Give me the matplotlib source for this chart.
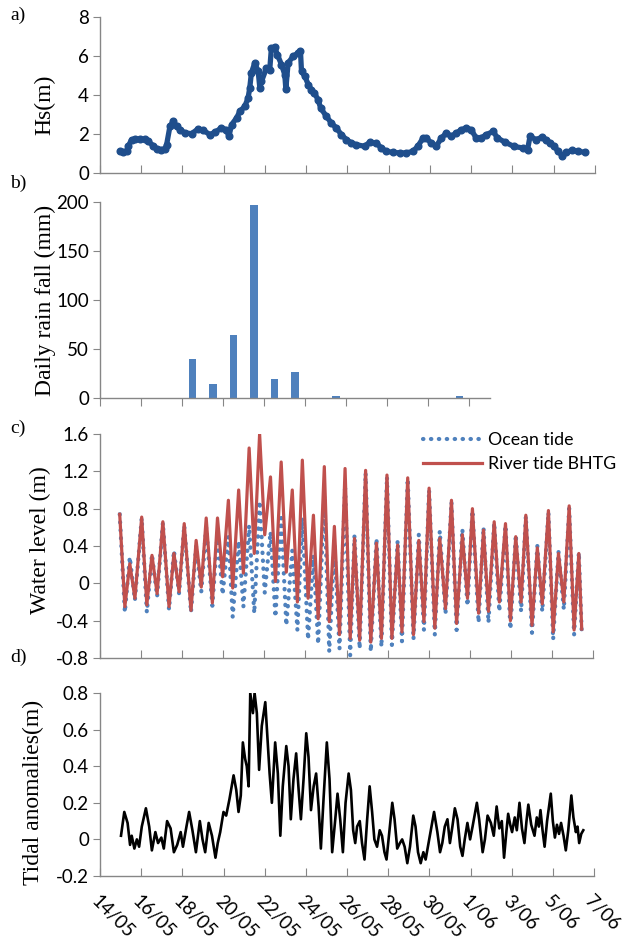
import matplotlib
matplotlib.use("Agg")
import matplotlib.pyplot as plt

# time axis: days after 14/05 00:00
date_ticks = [0, 2, 4, 6, 8, 10, 12, 14, 16, 18, 20, 22, 24]
date_labels = ["14/05", "16/05", "18/05", "20/05", "22/05", "24/05", "26/05",
               "28/05", "30/05", "1/06", "3/06", "5/06", "7/06"]

# a) significant wave height
hs_t = [0.97, 1.13, 1.29, 1.37, 1.53, 1.70, 1.94, 2.18, 2.34, 2.58, 2.74, 2.95,
        3.15, 3.23, 3.39, 3.55, 3.71, 3.87, 4.12, 4.44, 4.76, 5.00, 5.33, 5.57,
        5.89, 6.13, 6.25, 6.38, 6.62, 6.78, 7.02, 7.18, 7.26, 7.34, 7.50, 7.67,
        7.75, 7.83, 8.07, 8.23, 8.31, 8.47, 8.60, 8.80, 8.96, 9.01, 9.12, 9.36,
        9.60, 9.72, 9.77, 9.93, 10.10, 10.25, 10.40, 10.57, 10.70, 10.98, 11.22,
        11.46, 11.70, 11.95, 12.19, 12.43, 12.83, 13.07, 13.40, 13.64, 13.88,
        14.20, 14.53, 14.85, 15.17, 15.41, 15.66, 15.82, 16.06, 16.30, 16.55,
        16.79, 17.03, 17.28, 17.52, 17.76, 18.00, 18.24, 18.48, 18.73, 19.07,
        19.27, 19.66, 20.05, 20.50, 20.73, 20.85, 21.14, 21.44, 21.63, 21.83,
        22.03, 22.20, 22.42, 22.60, 22.90, 23.20, 23.50]
hs_v = [1.11, 1.08, 1.11, 1.37, 1.71, 1.74, 1.74, 1.72, 1.62, 1.40, 1.25, 1.20,
        1.23, 1.45, 2.39, 2.65, 2.39, 2.22, 2.05, 2.02, 2.26, 2.19, 1.97, 2.09,
        2.31, 2.22, 1.88, 2.48, 2.82, 3.16, 3.42, 3.85, 4.36, 5.13, 5.64, 5.21,
        4.36, 4.70, 5.38, 5.30, 6.41, 6.46, 6.07, 5.56, 5.04, 4.31, 5.64, 5.98,
        6.15, 6.24, 5.21, 4.96, 4.53, 4.27, 4.10, 3.76, 3.33, 2.90, 2.56,
        2.31, 1.97, 1.71, 1.54, 1.45, 1.37, 1.57, 1.54, 1.28, 1.11,
        1.06, 1.03, 1.03, 1.11, 1.37, 1.79, 1.79, 1.54, 1.37, 1.79,
        2.05, 1.88, 2.05, 2.22, 2.31, 2.22, 1.79, 1.79, 1.97, 2.13,
        1.79, 1.57, 1.37, 1.28, 1.20, 1.88, 1.71, 1.84, 1.71, 1.54,
        1.37, 1.11, 0.89, 1.06, 1.16, 1.11, 1.06]

# b) daily rainfall, one value per day from 14/05
rain_mm = [0, 0, 0, 0, 40, 14, 64, 197, 19, 27, 0, 2, 0, 0, 0, 0, 0, 2, 0]

# c) water levels (high / low waters)
tide_t = [0.96, 1.21, 1.45, 1.70, 2.03, 2.28, 2.53, 2.78, 3.06, 3.36, 3.60, 3.85,
          4.10, 4.43, 4.68, 4.93, 5.17, 5.47, 5.72, 5.97, 6.25, 6.46, 6.75, 6.98,
          7.26, 7.51, 7.77, 8.02, 8.30, 8.54, 8.82, 9.07, 9.36, 9.61, 9.85, 10.13,
          10.39, 10.62, 10.92, 11.16, 11.41, 11.66, 11.93, 12.18, 12.39, 12.64,
          12.93, 13.18, 13.46, 13.70, 13.97, 14.21, 14.49, 14.70, 14.98, 15.26,
          15.52, 15.77, 16.02, 16.30, 16.54, 16.82, 17.11, 17.36, 17.64, 17.89,
          18.13, 18.43, 18.67, 18.91, 19.19, 19.44, 19.74, 19.98, 20.24, 20.50,
          20.73, 21.03, 21.29, 21.53, 21.83, 22.06, 22.32, 22.58, 22.84, 23.08,
          23.31, 23.45]
river = [0.74, -0.25, 0.21, -0.16, 0.71, -0.23, 0.30, -0.11, 0.66, -0.25, 0.32, -0.09,
         0.64, -0.29, 0.46, -0.04, 0.70, -0.21, 0.70, 0.07, 0.89, -0.05, 1.00, 0.11,
         1.45, 0.32, 1.60, 0.52, 1.14, 0.02, 1.30, 0.12, 1.00, -0.20, 1.32, -0.16,
         0.73, -0.38, 1.25, -0.41, 0.61, -0.55, 1.23, -0.59, 0.48, -0.61,
         1.21, -0.63, 0.43, -0.59, 1.16, -0.59, 0.41, -0.52, 1.13, -0.55,
         0.46, -0.41, 1.02, -0.48, 0.48, -0.27, 0.89, -0.43, 0.52, -0.16,
         0.80, -0.32, 0.57, -0.30, 0.66, -0.20, 0.64, -0.40, 0.50, -0.20,
         0.73, -0.45, 0.38, -0.22, 0.78, -0.52, 0.32, -0.20, 0.83, -0.50,
         0.32, -0.49]
ocean = [0.74, -0.31, 0.28, -0.18, 0.70, -0.31, 0.31, -0.14, 0.65, -0.28, 0.35, -0.11,
         0.62, -0.31, 0.40, -0.09, 0.60, -0.24, 0.52, -0.12, 0.50, -0.36, 0.45, -0.25,
         0.62, -0.32, 0.88, -0.10, 0.55, -0.36, 0.70, -0.45, 0.35, -0.50, 0.70, -0.60,
         0.30, -0.65, 0.95, -0.73, 0.42, -0.70, 1.05, -0.77, 0.52, -0.70,
         1.18, -0.73, 0.48, -0.68, 1.14, -0.66, 0.46, -0.62, 1.12, -0.60,
         0.52, -0.50, 1.00, -0.55, 0.56, -0.33, 0.87, -0.50, 0.58, -0.24,
         0.78, -0.42, 0.60, -0.42, 0.65, -0.30, 0.62, -0.49, 0.52, -0.30,
         0.72, -0.53, 0.40, -0.30, 0.76, -0.60, 0.34, -0.28, 0.80, -0.55,
         0.33, -0.52]

# d) tidal anomalies
anom_t = [1.02, 1.18, 1.34, 1.46, 1.54, 1.67, 1.79, 1.90, 2.03, 2.23, 2.39, 2.52,
          2.69, 2.82, 2.98, 3.10, 3.26, 3.43, 3.59, 3.75, 3.92, 4.03, 4.20, 4.33,
          4.49, 4.66, 4.85, 4.98, 5.11, 5.28, 5.44, 5.61, 5.72, 5.84, 6.00, 6.13,
          6.29, 6.49, 6.62, 6.73, 6.84, 6.94, 7.05, 7.13, 7.22, 7.30, 7.43, 7.51,
          7.62, 7.73, 7.86, 8.03, 8.14, 8.24, 8.35, 8.51, 8.64, 8.76, 8.88, 9.05,
          9.16, 9.27, 9.40, 9.53, 9.65, 9.76, 9.89, 10.02, 10.13, 10.25, 10.38,
          10.50, 10.62, 10.73, 10.86, 11.02, 11.15, 11.28, 11.43, 11.54, 11.67,
          11.80, 11.93, 12.08, 12.19, 12.30, 12.40, 12.49, 12.62, 12.73, 12.85,
          12.98, 13.10, 13.22, 13.33, 13.46, 13.59, 13.70, 13.82, 13.92, 14.08,
          14.20, 14.31, 14.44, 14.57, 14.68, 14.80, 14.93, 15.06, 15.22, 15.33,
          15.45, 15.58, 15.71, 15.82, 15.93, 16.07, 16.23, 16.39, 16.52, 16.63,
          16.75, 16.88, 17.00, 17.12, 17.24, 17.37, 17.50, 17.61, 17.72, 17.85,
          17.98, 18.10, 18.31, 18.42, 18.59, 18.70, 18.83, 18.99, 19.13, 19.27,
          19.40, 19.52, 19.63, 19.75, 19.83, 19.93, 20.02, 20.15, 20.25, 20.38,
          20.50, 20.62, 20.72, 20.81, 20.95, 21.11, 21.22, 21.32, 21.40, 21.50,
          21.60, 21.72, 21.90, 22.00, 22.10, 22.20, 22.30, 22.40, 22.52, 22.63,
          22.75, 22.90, 23.00, 23.12, 23.20, 23.28, 23.38, 23.48]
anom_v = [0.02, 0.15, 0.09, -0.03, 0.02, -0.05, 0.00, -0.04, 0.07, 0.17, 0.07, -0.06,
          0.04, -0.02, 0.01, -0.05, 0.10, 0.06, -0.07, -0.03, 0.04, -0.04, 0.07, 0.15,
          0.05, -0.07, 0.10, 0.00, -0.07, 0.09, 0.02, -0.10, -0.02, 0.04, 0.15, 0.13,
          0.22, 0.35, 0.27, 0.15, 0.24, 0.53, 0.44, 0.40, 0.29, 0.80, 0.69, 0.80,
          0.69, 0.38, 0.62, 0.75, 0.55, 0.36, 0.20, 0.53, 0.36, 0.02, 0.29, 0.51,
          0.40, 0.11, 0.33, 0.47, 0.27, 0.11, 0.33, 0.58, 0.45, 0.16, 0.29,
          0.36, 0.18, -0.05, 0.22, 0.53, 0.33, -0.07, 0.11, 0.25, 0.11,
          -0.07, 0.20, 0.36, 0.27, 0.05, -0.02, 0.07, 0.10, -0.02, -0.11,
          0.11, 0.29, 0.15, 0.00, -0.04, 0.05, 0.02, -0.07, -0.11, 0.07,
          0.20, 0.11, -0.05, -0.02, 0.00, -0.04, -0.13, -0.04, 0.13, 0.07,
          -0.07, -0.13, -0.07, -0.11, -0.04, 0.05, 0.15, 0.04, -0.07, -0.02,
          0.07, 0.11, -0.02, 0.07, 0.17, 0.11, -0.04, -0.09, 0.00, 0.09,
          0.00, 0.07, 0.20, 0.11, -0.07, 0.00, 0.13, 0.09, 0.02, 0.18,
          0.06, 0.10, -0.10, 0.05, 0.14, 0.08, 0.04, 0.12, 0.05, 0.20,
          0.06, -0.02, 0.10, 0.19, 0.08, 0.02, 0.12, 0.07, 0.16, 0.05,
          -0.04, 0.10, 0.25, 0.10, 0.01, 0.08, 0.03, 0.09, 0.02, -0.06,
          0.05, 0.24, 0.12, 0.04, 0.07, -0.02, 0.03, 0.05]

W, H = 635, 950
GREY = "#868686"
SANS = "Lato"
SERIF = "Liberation Serif"


def rect(l, t, r, b):
    return [l / W, 1 - b / H, (r - l) / W, (b - t) / H]


def style(ax, xin=True):
    for s in ("top", "right"):
        ax.spines[s].set_visible(False)
    for s in ("left", "bottom"):
        ax.spines[s].set_color(GREY)
        ax.spines[s].set_linewidth(1.0)
    ax.tick_params(axis="y", direction="out", length=5, color=GREY,
                   labelsize=13.5, pad=3)
    ax.tick_params(axis="x", direction="in" if xin else "out", length=6,
                   color=GREY, labelsize=13.5)
    for lab in ax.get_yticklabels():
        lab.set_family(SANS)


fig = plt.figure(figsize=(W / 100, H / 100), dpi=100)

# a) Hs
ax1 = fig.add_axes(rect(100, 17, 595, 173))
ax1.plot(hs_t, hs_v, "-o", color="#1f4e8c", lw=3.8, ms=4.8, solid_capstyle="round")
ax1.set_xlim(0, 24)
ax1.set_ylim(0, 8)
ax1.set_yticks([0, 2, 4, 6, 8])
ax1.set_xticks(date_ticks)
ax1.set_xticklabels([])
style(ax1)

# b) rain
ax2 = fig.add_axes(rect(100, 202, 490, 398))
ax2.bar([i + 0.5 for i in range(len(rain_mm))], rain_mm, width=0.36, color="#4f81bd")
ax2.set_xlim(0, len(rain_mm))
ax2.set_ylim(0, 200)
ax2.set_yticks([0, 50, 100, 150, 200])
ax2.set_xticks(list(range(0, len(rain_mm), 2)))
ax2.set_xticklabels([])
style(ax2, xin=False)

# c) water level
ax3 = fig.add_axes(rect(100, 434, 593, 658))
ax3.plot(tide_t, ocean, color="#4f81bd", lw=3.0, ls=(0, (0.1, 1.8)),
         dash_capstyle="round", label="Ocean tide")
ax3.plot(tide_t, river, color="#c0504d", lw=2.3, solid_joinstyle="round",
         label="River tide BHTG")
ax3.set_xlim(0, 24)
ax3.set_ylim(-0.8, 1.6)
yt = [-0.8, -0.4, 0, 0.4, 0.8, 1.2, 1.6]
ax3.set_yticks(yt)
ax3.set_yticklabels(["-0.8", "-0.4", "0", "0.4", "0.8", "1.2", "1.6"])
ax3.set_xticks(date_ticks)
ax3.set_xticklabels([])
style(ax3)
leg = ax3.legend(loc="upper left", bbox_to_anchor=(414 / W, 1 - 423 / H),
                 bbox_transform=fig.transFigure, frameon=False,
                 handlelength=3.3, handletextpad=0.35, borderpad=0,
                 labelspacing=0.45, prop={"family": SANS, "size": 12.8})

# d) anomalies
ax4 = fig.add_axes(rect(100, 693, 594, 876))
ax4.plot(anom_t, anom_v, color="black", lw=1.9, solid_joinstyle="round")
ax4.set_xlim(0, 24)
ax4.set_ylim(-0.2, 0.8)
ax4.set_yticks([-0.2, 0, 0.2, 0.4, 0.6, 0.8])
ax4.set_yticklabels(["-0.2", "0", "0.2", "0.4", "0.6", "0.8"])
ax4.set_xticks(date_ticks)
ax4.set_xticklabels(date_labels, rotation=-45, ha="left", va="top",
                    rotation_mode="anchor", family=SANS, fontsize=15.5)
style(ax4)
ax4.tick_params(axis="x", pad=12)

# axis titles and panel letters
for x, y, txt in [(45, 105, "Hs(m)"), (45, 300, "Daily rain fall (mm)"),
                  (40, 540, "Water level (m)"), (33, 792, "Tidal anomalies(m)")]:
    fig.text(x / W, 1 - y / H, txt, rotation=90, ha="center", va="center",
             family=SERIF, fontsize=17)
for y, txt in [(15, "a)"), (183, "b)"), (428, "c)"), (657, "d)")]:
    fig.text(10 / W, 1 - y / H, txt, ha="left", va="center", family=SERIF,
             fontsize=14)

fig.savefig("out.png", dpi=100)
